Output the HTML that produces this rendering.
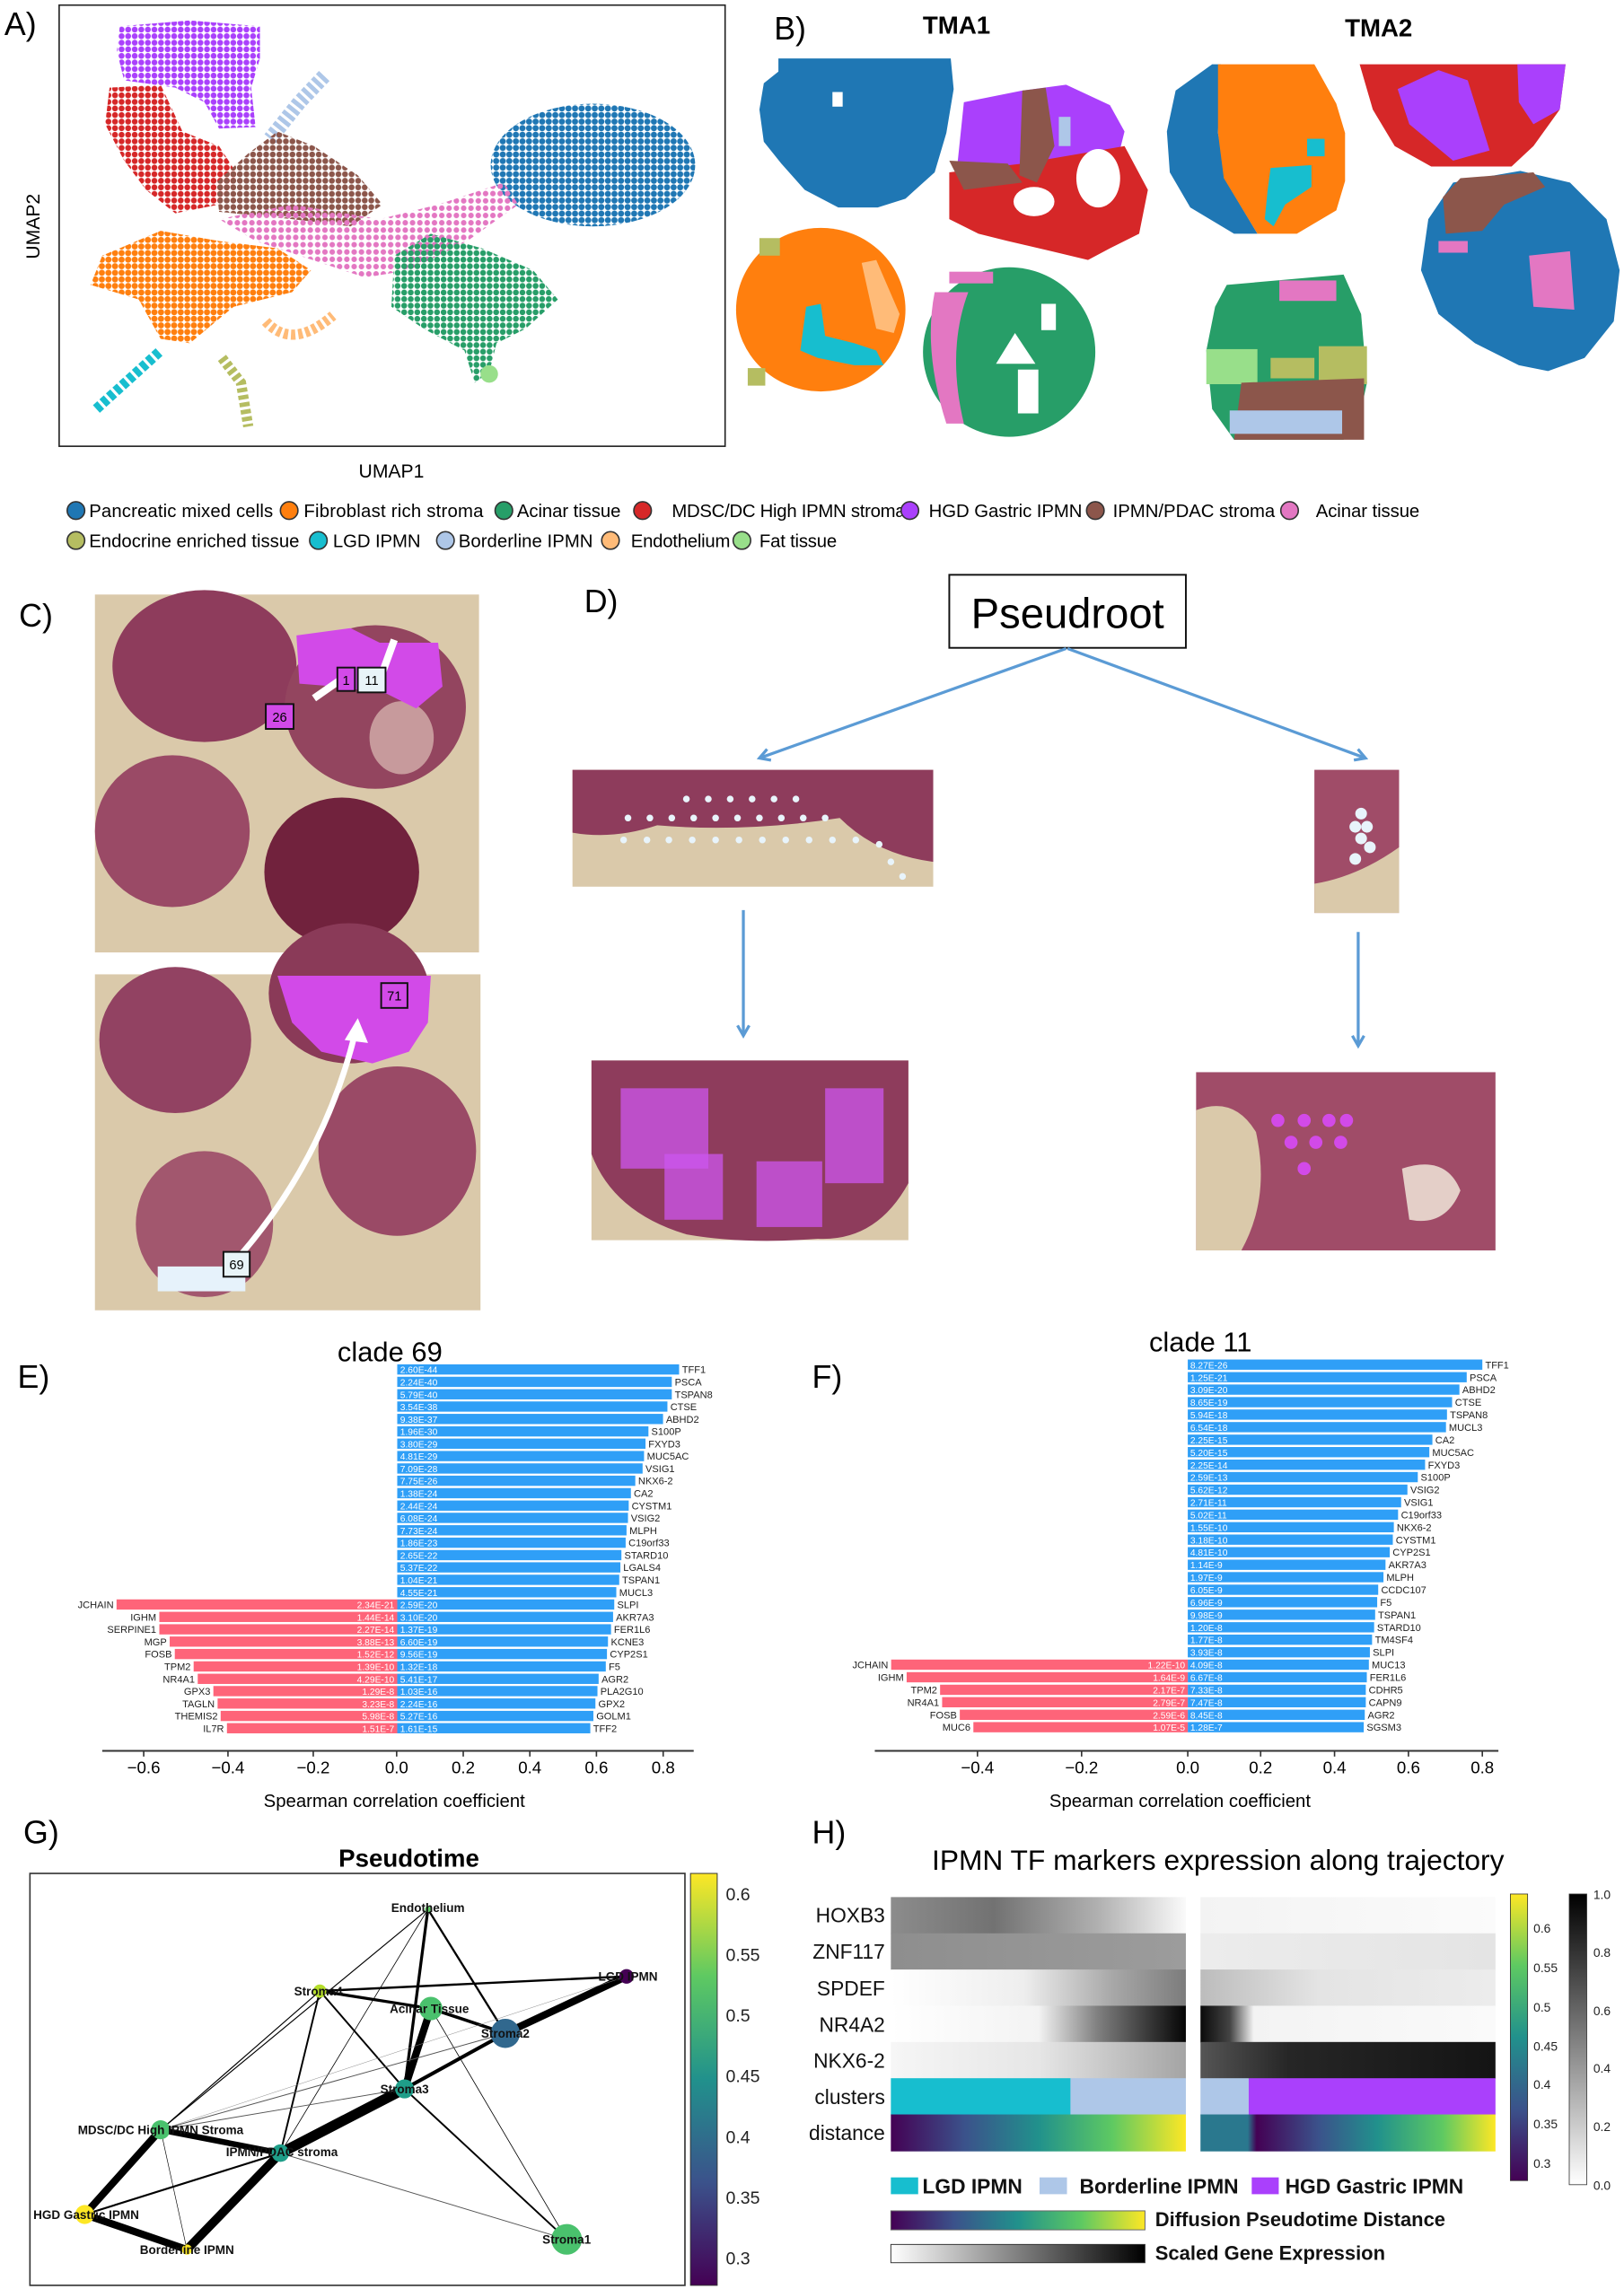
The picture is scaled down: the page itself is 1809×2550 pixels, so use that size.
<!DOCTYPE html>
<html><head><meta charset="utf-8"><style>
html,body{margin:0;padding:0;background:#fff;}
svg{display:block;}
text{font-family:"Liberation Sans",sans-serif;}
</style></head><body>
<svg width="1809" height="2550" viewBox="0 0 1112 1567" preserveAspectRatio="none" xmlns="http://www.w3.org/2000/svg">
<defs>
<pattern id="pPu" width="4.5" height="4.5" patternUnits="userSpaceOnUse"><circle cx="2.25" cy="2.25" r="2" fill="#aa40fc"/></pattern>
<pattern id="pRe" width="4.5" height="4.5" patternUnits="userSpaceOnUse"><circle cx="2.25" cy="2.25" r="2" fill="#d62728"/></pattern>
<pattern id="pBr" width="4.5" height="4.5" patternUnits="userSpaceOnUse"><circle cx="2.25" cy="2.25" r="2" fill="#8c564b"/></pattern>
<pattern id="pBl" width="4.5" height="4.5" patternUnits="userSpaceOnUse"><circle cx="2.25" cy="2.25" r="2.1" fill="#1f77b4"/></pattern>
<pattern id="pPk" width="5" height="5" patternUnits="userSpaceOnUse"><circle cx="2.5" cy="2.5" r="1.9" fill="#e377c2"/></pattern>
<pattern id="pOr" width="4.5" height="4.5" patternUnits="userSpaceOnUse"><circle cx="2.25" cy="2.25" r="2.1" fill="#ff7f0e"/></pattern>
<pattern id="pGr" width="4.5" height="4.5" patternUnits="userSpaceOnUse"><circle cx="2.25" cy="2.25" r="2" fill="#279e68"/></pattern>
<linearGradient id="vir" x1="0" x2="1" y1="0" y2="0"><stop offset="0" stop-color="#440154"/><stop offset=".25" stop-color="#3b528b"/><stop offset=".5" stop-color="#21918c"/><stop offset=".75" stop-color="#5ec962"/><stop offset="1" stop-color="#fde725"/></linearGradient>
<linearGradient id="virV" x1="0" x2="0" y1="1" y2="0"><stop offset="0" stop-color="#440154"/><stop offset=".25" stop-color="#3b528b"/><stop offset=".5" stop-color="#21918c"/><stop offset=".75" stop-color="#5ec962"/><stop offset="1" stop-color="#fde725"/></linearGradient>
<linearGradient id="grayV" x1="0" x2="0" y1="1" y2="0"><stop offset="0" stop-color="#fff"/><stop offset="1" stop-color="#000"/></linearGradient>
<linearGradient id="grayH" x1="0" x2="1"><stop offset="0" stop-color="#fff"/><stop offset="1" stop-color="#000"/></linearGradient>
<linearGradient id="virR" x1="0" x2="1"><stop offset="0" stop-color="#2a788e"/><stop offset=".16" stop-color="#2a788e"/><stop offset=".19" stop-color="#440154"/><stop offset=".4" stop-color="#3b528b"/><stop offset=".6" stop-color="#21918c"/><stop offset=".82" stop-color="#5ec962"/><stop offset="1" stop-color="#fde725"/></linearGradient>
<linearGradient id="h1L" x1="0" x2="1"><stop offset="0" stop-color="#8c8c8c"/><stop offset=".35" stop-color="#727272"/><stop offset=".7" stop-color="#b0b0b0"/><stop offset="1" stop-color="#fafafa"/></linearGradient>
<linearGradient id="h1R" x1="0" x2="1"><stop offset="0" stop-color="#f3f3f3"/><stop offset="1" stop-color="#fbfbfb"/></linearGradient>
<linearGradient id="h2L" x1="0" x2="1"><stop offset="0" stop-color="#8e8e8e"/><stop offset="1" stop-color="#9c9c9c"/></linearGradient>
<linearGradient id="h2R" x1="0" x2="1"><stop offset="0" stop-color="#ececec"/><stop offset="1" stop-color="#e4e4e4"/></linearGradient>
<linearGradient id="h3L" x1="0" x2="1"><stop offset="0" stop-color="#fff"/><stop offset=".45" stop-color="#eeeeee"/><stop offset=".75" stop-color="#a8a8a8"/><stop offset="1" stop-color="#7c7c7c"/></linearGradient>
<linearGradient id="h3R" x1="0" x2="1"><stop offset="0" stop-color="#bcbcbc"/><stop offset=".4" stop-color="#e4e4e4"/><stop offset="1" stop-color="#ececec"/></linearGradient>
<linearGradient id="h4L" x1="0" x2="1"><stop offset="0" stop-color="#fff"/><stop offset=".5" stop-color="#f3f3f3"/><stop offset=".7" stop-color="#808080"/><stop offset="1" stop-color="#050505"/></linearGradient>
<linearGradient id="h4R" x1="0" x2="1"><stop offset="0" stop-color="#0a0a0a"/><stop offset=".1" stop-color="#444"/><stop offset=".18" stop-color="#f3f3f3"/><stop offset="1" stop-color="#fafafa"/></linearGradient>
<linearGradient id="h5L" x1="0" x2="1"><stop offset="0" stop-color="#f6f6f6"/><stop offset=".5" stop-color="#e6e6e6"/><stop offset="1" stop-color="#a4a4a4"/></linearGradient>
<linearGradient id="h5R" x1="0" x2="1"><stop offset="0" stop-color="#555"/><stop offset=".3" stop-color="#262626"/><stop offset="1" stop-color="#141414"/></linearGradient>
<marker id="ah" markerWidth="10" markerHeight="10" refX="8" refY="5" orient="auto" markerUnits="userSpaceOnUse"><path d="M1,1 L8,5 L1,9" fill="none" stroke="#5b9bd5" stroke-width="2"/></marker>
</defs>

<!-- ===== A ===== -->
<text x="3" y="24" font-size="22">A)</text>
<rect x="40.5" y="3.5" width="456" height="302" fill="none" stroke="#222" stroke-width="1"/>
<polygon points="82,18 130,14 178,18 178,40 172,60 175,87 150,88 140,70 120,60 85,55 80,35" fill="url(#pPu)"/>
<polygon points="75,60 110,58 125,90 150,100 163,120 150,140 120,146 100,130 85,110 72,85" fill="url(#pRe)"/>
<polyline points="222,52 205,70 185,95" fill="none" stroke="#aec7e8" stroke-width="10" stroke-dasharray="3 2"/>
<polygon points="190,90 215,100 245,120 262,140 240,155 200,150 150,145 148,125 170,105" fill="url(#pBr)"/>
<ellipse cx="406" cy="113" rx="70" ry="42" fill="url(#pBl)"/>
<polygon points="150,150 200,140 260,150 300,140 345,125 355,140 320,165 280,185 250,190 220,180 175,165" fill="url(#pPk)"/>
<polygon points="70,175 110,158 150,165 190,170 213,185 200,200 160,210 130,235 110,232 95,205 62,195" fill="url(#pOr)"/>
<polygon points="270,175 295,160 330,170 365,185 382,205 360,225 340,235 335,255 325,262 318,240 290,225 268,210" fill="url(#pGr)"/>
<ellipse cx="335" cy="256" rx="6" ry="6" fill="#98df8a"/>
<path d="M182,220 Q200,240 228,216" fill="none" stroke="#ffbb78" stroke-width="7" stroke-dasharray="3 2"/>
<line x1="66" y1="280" x2="110" y2="240" stroke="#17becf" stroke-width="7" stroke-dasharray="4 2"/>
<path d="M152,245 L165,262 L170,292" fill="none" stroke="#b5bd61" stroke-width="7" stroke-dasharray="3 2"/>
<text x="268" y="327" font-size="13" text-anchor="middle">UMAP1</text>
<text transform="translate(27,155) rotate(-90)" font-size="13" text-anchor="middle">UMAP2</text>

<!-- ===== B ===== -->
<text x="530" y="27" font-size="22">B)</text>
<text x="655" y="23" font-size="17" font-weight="bold" text-anchor="middle">TMA1</text>
<text x="944" y="25" font-size="17" font-weight="bold" text-anchor="middle">TMA2</text>
<polygon points="533,40 651,40 653,61 648,91 640,118 620,136 601,142 574,142 551,130 535,112 523,97 520,75 523,57 533,49" fill="#1f77b4"/>
<rect x="570" y="63" width="7" height="10" fill="#fff"/>
<polygon points="660,70 700,62 730,58 760,72 770,90 765,110 700,115 655,118" fill="#aa40fc"/>
<polygon points="650,118 700,112 770,100 786,130 780,160 760,170 745,178 720,172 690,165 670,160 650,150" fill="#d62728"/>
<polygon points="700,62 716,60 722,100 710,125 698,120" fill="#8c564b"/>
<polygon points="650,110 690,112 700,125 660,130" fill="#8c564b"/>
<ellipse cx="708" cy="138" rx="14" ry="10" fill="#fff"/>
<ellipse cx="752" cy="122" rx="15" ry="20" fill="#fff"/>
<rect x="725" y="80" width="8" height="20" fill="#aec7e8"/>
<polygon points="830,44 836,44 834,91 840,125 861,160 845,160 815,142 801,118 799,90 805,62" fill="#1f77b4"/>
<polygon points="834,44 900,44 915,71 921,91 921,124 915,144 888,160 861,160 838,122 834,91" fill="#ff7f0e"/>
<polygon points="870,115 898,113 898,128 880,140 872,155 866,150 868,130" fill="#17becf"/>
<rect x="895" y="95" width="12" height="12" fill="#17becf"/>
<polygon points="931,44 1072,44 1068,75 1050,100 1035,114 980,114 955,100 940,75" fill="#d62728"/>
<polygon points="957,61 985,48 1005,55 1020,103 995,110 965,85" fill="#aa40fc"/>
<polygon points="1039,44 1072,44 1068,75 1050,85 1040,70" fill="#aa40fc"/>
<polygon points="1041,117 1075,125 1100,150 1109,185 1105,220 1085,245 1060,254 1040,250 1010,235 985,215 973,185 978,150 995,125" fill="#1f77b4"/>
<polygon points="1000,122 1050,118 1058,128 1030,140 1015,158 990,160 988,135" fill="#8c564b"/>
<polygon points="1047,175 1075,172 1078,212 1050,210" fill="#e377c2"/>
<rect x="985" y="165" width="20" height="8" fill="#e377c2"/>
<ellipse cx="562" cy="212" rx="58" ry="56" fill="#ff7f0e"/>
<polygon points="552,210 562,208 565,230 585,235 600,240 605,250 585,250 560,245 548,240" fill="#17becf"/>
<polygon points="590,180 600,178 616,215 612,228 600,225" fill="#ffbb78"/>
<rect x="520" y="163" width="14" height="12" fill="#b5bd61"/>
<rect x="512" y="252" width="12" height="12" fill="#b5bd61"/>
<ellipse cx="691" cy="241" rx="59" ry="58" fill="#279e68"/>
<path d="M640,200 Q632,240 648,290 L660,290 Q648,240 663,200 Z" fill="#e377c2"/>
<rect x="650" y="186" width="30" height="8" fill="#e377c2"/>
<polygon points="695,228 709,249 682,249" fill="#fff"/>
<rect x="697" y="253" width="14" height="30" fill="#fff"/>
<rect x="713" y="208" width="10" height="18" fill="#fff"/>
<polygon points="840,195 920,188 932,215 936,262 930,290 920,301 845,301 830,280 826,240 832,210" fill="#279e68"/>
<rect x="876" y="192" width="39" height="14" fill="#e377c2"/>
<rect x="826" y="239" width="35" height="24" fill="#98df8a"/>
<rect x="903" y="237" width="33" height="26" fill="#b5bd61"/>
<rect x="870" y="245" width="30" height="14" fill="#b5bd61"/>
<polygon points="850,262 934,259 934,301 845,301" fill="#8c564b"/>
<rect x="842" y="281" width="77" height="16" fill="#aec7e8"/>

<!-- legend -->
<g font-size="12.5" stroke-width="1">
<circle cx="52" cy="349.5" r="6" fill="#1f77b4" stroke="#333"/><text x="61" y="354" textLength="126">Pancreatic mixed cells</text>
<circle cx="198" cy="349.5" r="6" fill="#ff7f0e" stroke="#333"/><text x="208" y="354" textLength="123">Fibroblast  rich stroma</text>
<circle cx="345" cy="349.5" r="6" fill="#279e68" stroke="#333"/><text x="354" y="354" textLength="71">Acinar tissue</text>
<circle cx="440" cy="349.5" r="6" fill="#d62728" stroke="#333"/><text x="460" y="354" textLength="160">MDSC/DC High IPMN stroma</text>
<circle cx="623" cy="349.5" r="6" fill="#aa40fc" stroke="#333"/><text x="636" y="354" textLength="105">HGD Gastric IPMN</text>
<circle cx="750" cy="349.5" r="6" fill="#8c564b" stroke="#333"/><text x="762" y="354" textLength="111">IPMN/PDAC stroma</text>
<circle cx="883" cy="349.5" r="6" fill="#e377c2" stroke="#333"/><text x="901" y="354" textLength="71">Acinar tissue</text>
<circle cx="52" cy="370" r="6" fill="#b5bd61" stroke="#333"/><text x="61" y="374.5" textLength="144">Endocrine enriched tissue</text>
<circle cx="218" cy="370" r="6" fill="#17becf" stroke="#333"/><text x="228" y="374.5" textLength="60">LGD IPMN</text>
<circle cx="305" cy="370" r="6" fill="#aec7e8" stroke="#333"/><text x="314" y="374.5" textLength="92">Borderline IPMN</text>
<circle cx="418" cy="370" r="6" fill="#ffbb78" stroke="#333"/><text x="432" y="374.5" textLength="68">Endothelium</text>
<circle cx="508" cy="370" r="6" fill="#98df8a" stroke="#333"/><text x="520" y="374.5" textLength="53">Fat tissue</text>
</g>

<!-- ===== C ===== -->
<text x="13" y="429" font-size="22">C)</text>
<rect x="65" y="407" width="263" height="245" fill="#dac9aa"/>
<ellipse cx="140" cy="456" rx="63" ry="52" fill="#8e3c5c"/>
<ellipse cx="257" cy="484" rx="62" ry="56" fill="#93455f"/>
<ellipse cx="275" cy="505" rx="22" ry="25" fill="#c79a9c"/>
<ellipse cx="118" cy="569" rx="53" ry="52" fill="#9a4a66"/>
<ellipse cx="234" cy="597" rx="53" ry="51" fill="#71223d"/>
<polygon points="203,435 240,430 260,440 300,440 303,470 285,485 265,475 230,470 205,468" fill="#d24ae8"/>
<path d="M215,478 L238,462" stroke="#fff" stroke-width="5"/>
<path d="M262,460 L270,438" stroke="#fff" stroke-width="5"/>
<rect x="231" y="457" width="12" height="16" fill="#d24ae8" stroke="#111" stroke-width="1.2"/><text x="237" y="469" font-size="9" text-anchor="middle">1</text>
<rect x="245" y="457" width="19" height="17" fill="#e8f4f8" stroke="#111" stroke-width="1.2"/><text x="254.5" y="469" font-size="9" text-anchor="middle">11</text>
<rect x="182" y="482" width="19" height="17" fill="#d24ae8" stroke="#111" stroke-width="1.2"/><text x="191.5" y="494" font-size="9" text-anchor="middle">26</text>
<rect x="65" y="667" width="264" height="230" fill="#dac9aa"/>
<ellipse cx="120" cy="712" rx="52" ry="50" fill="#924262"/>
<ellipse cx="239" cy="680" rx="55" ry="48" fill="#8a3a58"/>
<ellipse cx="272" cy="788" rx="54" ry="58" fill="#9a4a66"/>
<ellipse cx="140" cy="838" rx="47" ry="50" fill="#a2576e"/>
<polygon points="190,668 295,668 293,700 280,720 255,728 220,720 200,700" fill="#d24ae8"/>
<rect x="108" y="867" width="60" height="17" fill="#e6f2fb"/>
<path d="M155,870 Q220,800 243,708" fill="none" stroke="#fff" stroke-width="4"/>
<polygon points="236,712 245,697 252,714" fill="#fff"/>
<rect x="261" y="673" width="18" height="17" fill="#d24ae8" stroke="#111" stroke-width="1.2"/><text x="270" y="685" font-size="9" text-anchor="middle">71</text>
<rect x="153" y="857" width="18" height="17" fill="#e8f4f8" stroke="#111" stroke-width="1.2"/><text x="162" y="869" font-size="9" text-anchor="middle">69</text>

<!-- ===== D ===== -->
<text x="400" y="419" font-size="22">D)</text>
<rect x="650" y="393.5" width="162" height="50" fill="#fff" stroke="#111" stroke-width="1.2"/>
<text x="731" y="430" font-size="29" text-anchor="middle">Pseudroot</text>
<line x1="730" y1="444" x2="520" y2="519" stroke="#5b9bd5" stroke-width="2" marker-end="url(#ah)"/>
<line x1="731" y1="444" x2="935" y2="519" stroke="#5b9bd5" stroke-width="2" marker-end="url(#ah)"/>
<line x1="509" y1="623" x2="509" y2="709" stroke="#5b9bd5" stroke-width="2" marker-end="url(#ah)"/>
<line x1="930" y1="638" x2="930" y2="716" stroke="#5b9bd5" stroke-width="2" marker-end="url(#ah)"/>
<rect x="392" y="527" width="247" height="80" fill="#dac9aa"/>
<path d="M392,527 L639,527 L639,590 Q600,585 575,560 Q510,570 450,565 Q420,575 392,570 Z" fill="#8e3c5c"/>
<g fill="#e8f4fb">
<circle cx="430" cy="560" r="2.3"/><circle cx="445" cy="560" r="2.3"/><circle cx="460" cy="560" r="2.3"/><circle cx="475" cy="560" r="2.3"/><circle cx="490" cy="560" r="2.3"/><circle cx="505" cy="560" r="2.3"/><circle cx="520" cy="560" r="2.3"/><circle cx="535" cy="560" r="2.3"/><circle cx="550" cy="560" r="2.3"/><circle cx="565" cy="560" r="2.3"/>
<circle cx="427" cy="575" r="2.3"/><circle cx="443" cy="575" r="2.3"/><circle cx="458" cy="575" r="2.3"/><circle cx="474" cy="575" r="2.3"/><circle cx="490" cy="575" r="2.3"/><circle cx="506" cy="575" r="2.3"/><circle cx="522" cy="575" r="2.3"/><circle cx="538" cy="575" r="2.3"/><circle cx="554" cy="575" r="2.3"/><circle cx="570" cy="575" r="2.3"/><circle cx="586" cy="575" r="2.3"/><circle cx="602" cy="578" r="2.3"/><circle cx="610" cy="590" r="2.3"/><circle cx="618" cy="600" r="2.3"/>
<circle cx="470" cy="547" r="2.3"/><circle cx="485" cy="547" r="2.3"/><circle cx="500" cy="547" r="2.3"/><circle cx="515" cy="547" r="2.3"/><circle cx="530" cy="547" r="2.3"/><circle cx="545" cy="547" r="2.3"/>
</g>
<rect x="900" y="527" width="58" height="98" fill="#a04c68"/>
<path d="M900,605 Q930,600 958,580 L958,625 L900,625 Z" fill="#dac9aa"/>
<g fill="#e8f4fb"><circle cx="932" cy="557" r="4"/><circle cx="928" cy="566" r="4"/><circle cx="936" cy="566" r="4"/><circle cx="932" cy="574" r="4"/><circle cx="938" cy="580" r="4"/><circle cx="928" cy="588" r="4"/></g>
<rect x="405" y="726" width="217" height="123" fill="#dac9aa"/>
<path d="M405,726 L622,726 L622,810 Q600,850 560,848 Q510,852 470,845 Q420,830 405,790 Z" fill="#8e3c5c"/>
<g fill="#cc55ee">
<rect x="425" y="745" width="60" height="55" opacity=".75"/>
<rect x="455" y="790" width="40" height="45" opacity=".75"/>
<rect x="518" y="795" width="45" height="45" opacity=".75"/>
<rect x="565" y="745" width="40" height="65" opacity=".75"/>
</g>
<rect x="819" y="734" width="205" height="122" fill="#a04c68"/>
<path d="M819,760 Q845,750 860,775 Q870,820 850,856 L819,856 Z" fill="#dac9aa"/>
<path d="M960,800 Q990,790 1000,815 Q990,840 965,835 Z" fill="#e4cfc8"/>
<g fill="#d24ae8"><circle cx="875" cy="767" r="4.5"/><circle cx="893" cy="767" r="4.5"/><circle cx="910" cy="767" r="4.5"/><circle cx="922" cy="767" r="4.5"/><circle cx="884" cy="782" r="4.5"/><circle cx="901" cy="782" r="4.5"/><circle cx="918" cy="782" r="4.5"/><circle cx="893" cy="800" r="4.5"/></g>

<!-- ===== E ===== -->
<text x="12" y="950" font-size="22">E)</text>
<text x="267" y="932" font-size="19" text-anchor="middle">clade 69</text>
<g fill="#2f9ff7">
<rect x="272" y="934" width="193" height="7"/><rect x="272" y="942.5" width="188" height="7"/><rect x="272" y="951" width="188" height="7"/><rect x="272" y="959.4" width="185" height="7"/><rect x="272" y="967.9" width="182" height="7"/><rect x="272" y="976.4" width="172" height="7"/><rect x="272" y="984.8" width="170" height="7"/><rect x="272" y="993.3" width="169" height="7"/><rect x="272" y="1001.8" width="168" height="7"/><rect x="272" y="1010.2" width="163" height="7"/><rect x="272" y="1018.7" width="160" height="7"/><rect x="272" y="1027.2" width="158.5" height="7"/><rect x="272" y="1035.6" width="158" height="7"/><rect x="272" y="1044.1" width="157" height="7"/><rect x="272" y="1052.6" width="156.4" height="7"/><rect x="272" y="1061.1" width="153.5" height="7"/><rect x="272" y="1069.5" width="152.8" height="7"/><rect x="272" y="1078" width="152" height="7"/><rect x="272" y="1086.5" width="150" height="7"/><rect x="272" y="1094.9" width="148.6" height="7"/><rect x="272" y="1103.4" width="147.8" height="7"/><rect x="272" y="1111.9" width="146.4" height="7"/><rect x="272" y="1120.3" width="144.3" height="7"/><rect x="272" y="1128.8" width="143.6" height="7"/><rect x="272" y="1137.3" width="142.8" height="7"/><rect x="272" y="1145.8" width="137.9" height="7"/><rect x="272" y="1154.2" width="137.1" height="7"/><rect x="272" y="1162.7" width="135.7" height="7"/><rect x="272" y="1171.2" width="134.3" height="7"/><rect x="272" y="1179.6" width="132.2" height="7"/>
</g>
<g fill="#fe6479">
<rect x="79.8" y="1094.9" width="192.2" height="7"/><rect x="109.1" y="1103.4" width="162.9" height="7"/><rect x="109.1" y="1111.9" width="162.9" height="7"/><rect x="116.2" y="1120.3" width="155.8" height="7"/><rect x="119.7" y="1128.8" width="152.3" height="7"/><rect x="132.6" y="1137.3" width="139.4" height="7"/><rect x="135.4" y="1145.8" width="136.6" height="7"/><rect x="146.1" y="1154.2" width="125.9" height="7"/><rect x="149" y="1162.7" width="123" height="7"/><rect x="151.1" y="1171.2" width="120.9" height="7"/><rect x="155.4" y="1179.6" width="116.6" height="7"/>
</g>
<g font-size="6.3" fill="#fff">
<text x="274" y="940">2.60E-44</text><text x="274" y="948.5">2.24E-40</text><text x="274" y="957">5.79E-40</text><text x="274" y="965.4">3.54E-38</text><text x="274" y="973.9">9.38E-37</text><text x="274" y="982.4">1.96E-30</text><text x="274" y="990.8">3.80E-29</text><text x="274" y="999.3">4.81E-29</text><text x="274" y="1007.8">7.09E-28</text><text x="274" y="1016.2">7.75E-26</text><text x="274" y="1024.7">1.38E-24</text><text x="274" y="1033.2">2.44E-24</text><text x="274" y="1041.6">6.08E-24</text><text x="274" y="1050.1">7.73E-24</text><text x="274" y="1058.6">1.86E-23</text><text x="274" y="1067.1">2.65E-22</text><text x="274" y="1075.5">5.37E-22</text><text x="274" y="1084">1.04E-21</text><text x="274" y="1092.5">4.55E-21</text><text x="274" y="1100.9">2.59E-20</text><text x="274" y="1109.4">3.10E-20</text><text x="274" y="1117.9">1.37E-19</text><text x="274" y="1126.3">6.60E-19</text><text x="274" y="1134.8">9.56E-19</text><text x="274" y="1143.3">1.32E-18</text><text x="274" y="1151.8">5.41E-17</text><text x="274" y="1160.2">1.03E-16</text><text x="274" y="1168.7">2.24E-16</text><text x="274" y="1177.2">5.27E-16</text><text x="274" y="1185.6">1.61E-15</text>
</g>
<g font-size="6.3" fill="#fff" text-anchor="end">
<text x="270" y="1100.9">2.34E-21</text><text x="270" y="1109.4">1.44E-14</text><text x="270" y="1117.9">2.27E-14</text><text x="270" y="1126.3">3.88E-13</text><text x="270" y="1134.8">1.52E-12</text><text x="270" y="1143.3">1.39E-10</text><text x="270" y="1151.8">4.29E-10</text><text x="270" y="1160.2">1.29E-8</text><text x="270" y="1168.7">3.23E-8</text><text x="270" y="1177.2">5.98E-8</text><text x="270" y="1185.6">1.51E-7</text>
</g>
<g font-size="6.8" fill="#222">
<text x="467" y="940">TFF1</text><text x="462" y="948.5">PSCA</text><text x="462" y="957">TSPAN8</text><text x="459" y="965.4">CTSE</text><text x="456" y="973.9">ABHD2</text><text x="446" y="982.4">S100P</text><text x="444" y="990.8">FXYD3</text><text x="443" y="999.3">MUC5AC</text><text x="442" y="1007.8">VSIG1</text><text x="437" y="1016.2">NKX6-2</text><text x="434" y="1024.7">CA2</text><text x="432.5" y="1033.2">CYSTM1</text><text x="432" y="1041.6">VSIG2</text><text x="431" y="1050.1">MLPH</text><text x="430.4" y="1058.6">C19orf33</text><text x="427.5" y="1067.1">STARD10</text><text x="426.8" y="1075.5">LGALS4</text><text x="426" y="1084">TSPAN1</text><text x="424" y="1092.5">MUCL3</text><text x="422.6" y="1100.9">SLPI</text><text x="421.8" y="1109.4">AKR7A3</text><text x="420.4" y="1117.9">FER1L6</text><text x="418.3" y="1126.3">KCNE3</text><text x="417.6" y="1134.8">CYP2S1</text><text x="416.8" y="1143.3">F5</text><text x="411.9" y="1151.8">AGR2</text><text x="411.1" y="1160.2">PLA2G10</text><text x="409.7" y="1168.7">GPX2</text><text x="408.3" y="1177.2">GOLM1</text><text x="406.2" y="1185.6">TFF2</text>
</g>
<g font-size="6.8" fill="#222" text-anchor="end">
<text x="77.8" y="1100.9">JCHAIN</text><text x="107" y="1109.4">IGHM</text><text x="107" y="1117.9">SERPINE1</text><text x="114.2" y="1126.3">MGP</text><text x="117.7" y="1134.8">FOSB</text><text x="130.6" y="1143.3">TPM2</text><text x="133.4" y="1151.8">NR4A1</text><text x="144.1" y="1160.2">GPX3</text><text x="147" y="1168.7">TAGLN</text><text x="149.1" y="1177.2">THEMIS2</text><text x="153.4" y="1185.6">IL7R</text>
</g>
<line x1="70" y1="1198.6" x2="475" y2="1198.6" stroke="#333" stroke-width="1.2"/>
<g stroke="#333" stroke-width="1"><line x1="98.4" y1="1199" x2="98.4" y2="1202.5"/><line x1="156.1" y1="1199" x2="156.1" y2="1202.5"/><line x1="214.5" y1="1199" x2="214.5" y2="1202.5"/><line x1="271.6" y1="1199" x2="271.6" y2="1202.5"/><line x1="317.2" y1="1199" x2="317.2" y2="1202.5"/><line x1="362.8" y1="1199" x2="362.8" y2="1202.5"/><line x1="408.4" y1="1199" x2="408.4" y2="1202.5"/><line x1="454.1" y1="1199" x2="454.1" y2="1202.5"/></g>
<g font-size="11.5" text-anchor="middle"><text x="98.4" y="1214">−0.6</text><text x="156.1" y="1214">−0.4</text><text x="214.5" y="1214">−0.2</text><text x="271.6" y="1214">0.0</text><text x="317.2" y="1214">0.2</text><text x="362.8" y="1214">0.4</text><text x="408.4" y="1214">0.6</text><text x="454.1" y="1214">0.8</text></g>
<text x="270" y="1237" font-size="12.5" text-anchor="middle">Spearman correlation coefficient</text>

<!-- ===== F ===== -->
<text x="556" y="950" font-size="22">F)</text>
<text x="822" y="925" font-size="19" text-anchor="middle">clade 11</text>
<g fill="#2f9ff7">
<rect x="813.3" y="930.7" width="201.7" height="7"/><rect x="813.3" y="939.3" width="191" height="7"/><rect x="813.3" y="947.8" width="186" height="7"/><rect x="813.3" y="956.4" width="181" height="7"/><rect x="813.3" y="964.9" width="177.5" height="7"/><rect x="813.3" y="973.5" width="176.8" height="7"/><rect x="813.3" y="982.1" width="167.5" height="7"/><rect x="813.3" y="990.6" width="165.4" height="7"/><rect x="813.3" y="999.2" width="162.5" height="7"/><rect x="813.3" y="1007.7" width="157.5" height="7"/><rect x="813.3" y="1016.3" width="150.4" height="7"/><rect x="813.3" y="1024.9" width="146.1" height="7"/><rect x="813.3" y="1033.4" width="144" height="7"/><rect x="813.3" y="1042" width="141.1" height="7"/><rect x="813.3" y="1050.5" width="140.4" height="7"/><rect x="813.3" y="1059.1" width="138.3" height="7"/><rect x="813.3" y="1067.7" width="135.4" height="7"/><rect x="813.3" y="1076.2" width="134" height="7"/><rect x="813.3" y="1084.8" width="130.4" height="7"/><rect x="813.3" y="1093.3" width="129.7" height="7"/><rect x="813.3" y="1101.9" width="128.3" height="7"/><rect x="813.3" y="1110.5" width="127.6" height="7"/><rect x="813.3" y="1119" width="126.2" height="7"/><rect x="813.3" y="1127.6" width="124.7" height="7"/><rect x="813.3" y="1136.1" width="124" height="7"/><rect x="813.3" y="1144.7" width="122.6" height="7"/><rect x="813.3" y="1153.3" width="121.9" height="7"/><rect x="813.3" y="1161.8" width="121.9" height="7"/><rect x="813.3" y="1170.4" width="121.2" height="7"/><rect x="813.3" y="1178.9" width="120.5" height="7"/>
</g>
<g fill="#fe6479">
<rect x="610.2" y="1136.1" width="203.1" height="7"/><rect x="620.8" y="1144.7" width="192.5" height="7"/><rect x="643.7" y="1153.3" width="169.6" height="7"/><rect x="645.1" y="1161.8" width="168.2" height="7"/><rect x="657.2" y="1170.4" width="156.1" height="7"/><rect x="666.5" y="1178.9" width="146.8" height="7"/>
</g>
<g font-size="6.3" fill="#fff">
<text x="815" y="936.7">8.27E-26</text><text x="815" y="945.3">1.25E-21</text><text x="815" y="953.8">3.09E-20</text><text x="815" y="962.4">8.65E-19</text><text x="815" y="970.9">5.94E-18</text><text x="815" y="979.5">6.54E-18</text><text x="815" y="988.1">2.25E-15</text><text x="815" y="996.6">5.20E-15</text><text x="815" y="1005.2">2.25E-14</text><text x="815" y="1013.7">2.59E-13</text><text x="815" y="1022.3">5.62E-12</text><text x="815" y="1030.9">2.71E-11</text><text x="815" y="1039.4">5.02E-11</text><text x="815" y="1048">1.55E-10</text><text x="815" y="1056.5">3.18E-10</text><text x="815" y="1065.1">4.81E-10</text><text x="815" y="1073.7">1.14E-9</text><text x="815" y="1082.2">1.97E-9</text><text x="815" y="1090.8">6.05E-9</text><text x="815" y="1099.3">6.96E-9</text><text x="815" y="1107.9">9.98E-9</text><text x="815" y="1116.5">1.20E-8</text><text x="815" y="1125">1.77E-8</text><text x="815" y="1133.6">3.93E-8</text><text x="815" y="1142.1">4.09E-8</text><text x="815" y="1150.7">6.67E-8</text><text x="815" y="1159.3">7.33E-8</text><text x="815" y="1167.8">7.47E-8</text><text x="815" y="1176.4">8.45E-8</text><text x="815" y="1184.9">1.28E-7</text>
</g>
<g font-size="6.3" fill="#fff" text-anchor="end">
<text x="811.5" y="1142.1">1.22E-10</text><text x="811.5" y="1150.7">1.64E-9</text><text x="811.5" y="1159.3">2.17E-7</text><text x="811.5" y="1167.8">2.79E-7</text><text x="811.5" y="1176.4">2.59E-6</text><text x="811.5" y="1184.9">1.07E-5</text>
</g>
<g font-size="6.8" fill="#222">
<text x="1017" y="936.7">TFF1</text><text x="1006.3" y="945.3">PSCA</text><text x="1001.3" y="953.8">ABHD2</text><text x="996.3" y="962.4">CTSE</text><text x="992.8" y="970.9">TSPAN8</text><text x="992.1" y="979.5">MUCL3</text><text x="982.8" y="988.1">CA2</text><text x="980.7" y="996.6">MUC5AC</text><text x="977.8" y="1005.2">FXYD3</text><text x="972.8" y="1013.7">S100P</text><text x="965.7" y="1022.3">VSIG2</text><text x="961.4" y="1030.9">VSIG1</text><text x="959.3" y="1039.4">C19orf33</text><text x="956.4" y="1048">NKX6-2</text><text x="955.7" y="1056.5">CYSTM1</text><text x="953.6" y="1065.1">CYP2S1</text><text x="950.7" y="1073.7">AKR7A3</text><text x="949.3" y="1082.2">MLPH</text><text x="945.7" y="1090.8">CCDC107</text><text x="945" y="1099.3">F5</text><text x="943.6" y="1107.9">TSPAN1</text><text x="942.9" y="1116.5">STARD10</text><text x="941.5" y="1125">TM4SF4</text><text x="940" y="1133.6">SLPI</text><text x="939.3" y="1142.1">MUC13</text><text x="937.9" y="1150.7">FER1L6</text><text x="937.2" y="1159.3">CDHR5</text><text x="937.2" y="1167.8">CAPN9</text><text x="936.5" y="1176.4">AGR2</text><text x="935.8" y="1184.9">SGSM3</text>
</g>
<g font-size="6.8" fill="#222" text-anchor="end">
<text x="608.2" y="1142.1">JCHAIN</text><text x="618.8" y="1150.7">IGHM</text><text x="641.7" y="1159.3">TPM2</text><text x="643.1" y="1167.8">NR4A1</text><text x="655.2" y="1176.4">FOSB</text><text x="664.5" y="1184.9">MUC6</text>
</g>
<line x1="599" y1="1198.6" x2="1026" y2="1198.6" stroke="#333" stroke-width="1.2"/>
<g stroke="#333" stroke-width="1"><line x1="669.3" y1="1199" x2="669.3" y2="1202.5"/><line x1="740.6" y1="1199" x2="740.6" y2="1202.5"/><line x1="813.3" y1="1199" x2="813.3" y2="1202.5"/><line x1="863.2" y1="1199" x2="863.2" y2="1202.5"/><line x1="913.8" y1="1199" x2="913.8" y2="1202.5"/><line x1="964.4" y1="1199" x2="964.4" y2="1202.5"/><line x1="1015" y1="1199" x2="1015" y2="1202.5"/></g>
<g font-size="11.5" text-anchor="middle"><text x="669.3" y="1214">−0.4</text><text x="740.6" y="1214">−0.2</text><text x="813.3" y="1214">0.0</text><text x="863.2" y="1214">0.2</text><text x="913.8" y="1214">0.4</text><text x="964.4" y="1214">0.6</text><text x="1015" y="1214">0.8</text></g>
<text x="808" y="1237" font-size="12.5" text-anchor="middle">Spearman correlation coefficient</text>

<!-- ===== G ===== -->
<text x="16" y="1262" font-size="22">G)</text>
<text x="280" y="1278" font-size="17" font-weight="bold" text-anchor="middle">Pseudotime</text>
<rect x="20.5" y="1282.5" width="448.5" height="282" fill="#fff" stroke="#333" stroke-width="1"/>
<g stroke="#000" stroke-linecap="round">
<line x1="110" y1="1458" x2="293" y2="1307" stroke-width=".7"/>
<line x1="192" y1="1474" x2="293" y2="1307" stroke-width=".5"/>
<line x1="277" y1="1430" x2="293" y2="1307" stroke-width="2"/>
<line x1="346" y1="1392" x2="293" y2="1307" stroke-width="1.4"/>
<line x1="219" y1="1363" x2="429" y2="1353" stroke-width="1.5"/>
<line x1="219" y1="1363" x2="295" y2="1375" stroke-width="2"/>
<line x1="219" y1="1363" x2="192" y2="1474" stroke-width="1.2"/>
<line x1="219" y1="1363" x2="277" y2="1430" stroke-width="1.2"/>
<line x1="219" y1="1363" x2="110" y2="1458" stroke-width=".7"/>
<line x1="295" y1="1375" x2="346" y2="1392" stroke-width="2.2"/>
<line x1="295" y1="1375" x2="277" y2="1430" stroke-width="5"/>
<line x1="295" y1="1375" x2="388" y2="1533" stroke-width=".5"/>
<line x1="429" y1="1353" x2="346" y2="1392" stroke-width="5"/>
<line x1="429" y1="1353" x2="110" y2="1458" stroke-width=".3" stroke="#888"/>
<line x1="346" y1="1392" x2="277" y2="1430" stroke-width="2.5"/>
<line x1="346" y1="1392" x2="110" y2="1458" stroke-width=".6" stroke="#555"/>
<line x1="277" y1="1430" x2="192" y2="1474" stroke-width="7"/>
<line x1="277" y1="1430" x2="110" y2="1458" stroke-width=".6" stroke="#555"/>
<line x1="277" y1="1430" x2="388" y2="1533" stroke-width="1.2"/>
<line x1="110" y1="1458" x2="192" y2="1474" stroke-width="4"/>
<line x1="110" y1="1458" x2="58" y2="1516" stroke-width="5"/>
<line x1="110" y1="1458" x2="128" y2="1540" stroke-width=".4"/>
<line x1="192" y1="1474" x2="58" y2="1516" stroke-width="1.3"/>
<line x1="192" y1="1474" x2="128" y2="1540" stroke-width="6"/>
<line x1="192" y1="1474" x2="388" y2="1533" stroke-width=".6" stroke="#555"/>
<line x1="58" y1="1516" x2="128" y2="1540" stroke-width="5"/>
</g>
<g>
<circle cx="293" cy="1307" r="2" fill="#5ec962"/>
<circle cx="429" cy="1353" r="5" fill="#440154"/>
<circle cx="219" cy="1363" r="4.5" fill="#b5de2b"/>
<circle cx="295" cy="1375" r="8" fill="#4ac16d"/>
<circle cx="346" cy="1392" r="10" fill="#31688e"/>
<circle cx="277" cy="1430" r="6.5" fill="#1f9e89"/>
<circle cx="110" cy="1458" r="6.5" fill="#4ac16d"/>
<circle cx="192" cy="1474" r="6" fill="#1f9e89"/>
<circle cx="58" cy="1516" r="6.5" fill="#fde725"/>
<circle cx="128" cy="1540" r="3.5" fill="#fde725"/>
<circle cx="388" cy="1533" r="10.5" fill="#4ac16d"/>
</g>
<g font-size="8.3" font-weight="bold" text-anchor="middle" fill="#111">
<text x="293" y="1309">Endothelium</text>
<text x="430" y="1356">LGD IPMN</text>
<text x="218" y="1366">Stroma4</text>
<text x="294" y="1378">Acinar Tissue</text>
<text x="346" y="1395">Stroma2</text>
<text x="277" y="1433">Stroma3</text>
<text x="110" y="1461">MDSC/DC High IPMN Stroma</text>
<text x="193" y="1476">IPMN/PDAC stroma</text>
<text x="59" y="1519">HGD Gastric IPMN</text>
<text x="128" y="1543">Borderline IPMN</text>
<text x="388" y="1536">Stroma1</text>
</g>
<rect x="472.8" y="1282.5" width="18.3" height="282" fill="url(#virV)" stroke="#333" stroke-width=".6"/>
<g font-size="12" fill="#222">
<text x="497" y="1301">0.6</text><text x="497" y="1342.5">0.55</text><text x="497" y="1384">0.5</text><text x="497" y="1425.5">0.45</text><text x="497" y="1467">0.4</text><text x="497" y="1508.5">0.35</text><text x="497" y="1550">0.3</text>
</g>

<!-- ===== H ===== -->
<text x="556" y="1262" font-size="22">H)</text>
<text x="834" y="1280" font-size="19.5" text-anchor="middle">IPMN TF markers expression along trajectory</text>
<rect x="610" y="1298.7" width="202" height="25.2" fill="url(#h1L)"/>
<rect x="822" y="1298.7" width="202" height="25.2" fill="url(#h1R)"/>
<rect x="610" y="1323.5" width="202" height="25.2" fill="url(#h2L)"/>
<rect x="822" y="1323.5" width="202" height="25.2" fill="url(#h2R)"/>
<rect x="610" y="1348.3" width="202" height="25.2" fill="url(#h3L)"/>
<rect x="822" y="1348.3" width="202" height="25.2" fill="url(#h3R)"/>
<rect x="610" y="1373.1" width="202" height="25.2" fill="url(#h4L)"/>
<rect x="822" y="1373.1" width="202" height="25.2" fill="url(#h4R)"/>
<rect x="610" y="1397.9" width="202" height="25.2" fill="url(#h5L)"/>
<rect x="822" y="1397.9" width="202" height="25.2" fill="url(#h5R)"/>
<rect x="610" y="1422.7" width="123" height="25.2" fill="#17becf"/>
<rect x="733" y="1422.7" width="79" height="25.2" fill="#aec7e8"/>
<rect x="822" y="1422.7" width="33" height="25.2" fill="#aec7e8"/>
<rect x="855" y="1422.7" width="169" height="25.2" fill="#aa40fc"/>
<rect x="610" y="1447.5" width="202" height="25.3" fill="url(#vir)"/>
<rect x="822" y="1447.5" width="202" height="25.3" fill="url(#virR)"/>
<g font-size="14" text-anchor="end" fill="#111">
<text x="606" y="1316">HOXB3</text><text x="606" y="1341">ZNF117</text><text x="606" y="1366">SPDEF</text><text x="606" y="1391">NR4A2</text><text x="606" y="1415.5">NKX6-2</text><text x="606" y="1440.5">clusters</text><text x="606" y="1465">distance</text>
</g>
<rect x="1034.2" y="1296.6" width="11.8" height="196.2" fill="url(#virV)" stroke="#333" stroke-width=".5"/>
<g font-size="8.5" fill="#222">
<text x="1050" y="1323">0.6</text><text x="1050" y="1350">0.55</text><text x="1050" y="1377">0.5</text><text x="1050" y="1404">0.45</text><text x="1050" y="1430">0.4</text><text x="1050" y="1457">0.35</text><text x="1050" y="1484">0.3</text>
</g>
<rect x="1074.5" y="1296.6" width="12" height="199" fill="url(#grayV)" stroke="#333" stroke-width=".5"/>
<g font-size="8.5" fill="#222">
<text x="1091" y="1300">1.0</text><text x="1091" y="1339.5">0.8</text><text x="1091" y="1379.5">0.6</text><text x="1091" y="1419">0.4</text><text x="1091" y="1459">0.2</text><text x="1091" y="1499">0.0</text>
</g>
<rect x="610" y="1490.6" width="18.7" height="11.5" fill="#17becf"/>
<rect x="711.8" y="1490.6" width="18.8" height="11.5" fill="#aec7e8"/>
<rect x="857.1" y="1490.6" width="18.5" height="11.5" fill="#aa40fc"/>
<g font-size="14" font-weight="bold" fill="#111">
<text x="631.6" y="1501.5">LGD IPMN</text><text x="739.2" y="1501.5">Borderline IPMN</text><text x="880" y="1501.5">HGD Gastric IPMN</text>
</g>
<rect x="610" y="1513.5" width="174" height="13" fill="url(#vir)" stroke="#666" stroke-width=".6"/>
<rect x="610" y="1536.5" width="174" height="12.5" fill="url(#grayH)" stroke="#333" stroke-width=".6"/>
<g font-size="13.5" font-weight="bold" fill="#111">
<text x="791" y="1524">Diffusion Pseudotime Distance</text>
<text x="791" y="1547">Scaled Gene Expression</text>
</g>
</svg>
</body></html>
